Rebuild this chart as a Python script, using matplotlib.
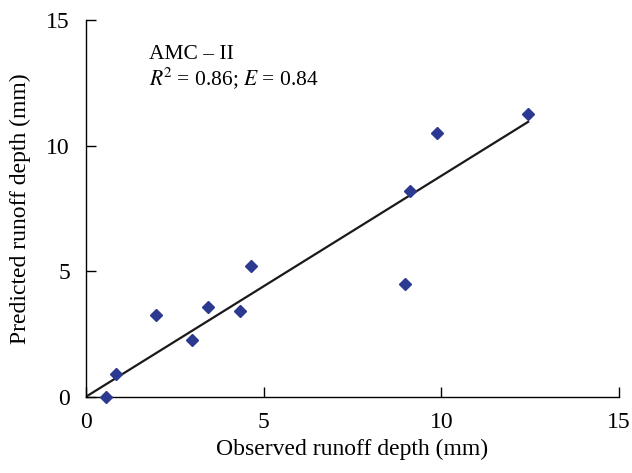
import matplotlib
matplotlib.use("Agg")
import matplotlib.pyplot as plt
import numpy as np

observed = [0.56, 0.84, 1.96, 2.99, 3.44, 4.33, 4.64, 8.98, 9.12, 9.88, 12.44]
predicted = [0.00, 0.89, 3.25, 2.25, 3.58, 3.42, 5.22, 4.49, 8.20, 10.51, 11.25]
ticks = [0, 5, 10, 15]
annot_title = "AMC – II"

plt.rcParams['font.family'] = ['Liberation Serif', 'DejaVu Serif']
plt.rcParams['mathtext.fontset'] = 'stix'

fig = plt.figure(figsize=(6.32, 4.73), dpi=100)
ax = fig.add_axes([0.1361, 0.1613, 0.8434, 0.7964])

x = np.array(observed)
y = np.array(predicted)
slope = np.sum(x * y) / np.sum(x * x)
xl = np.array([0, x.max()])
ax.plot(xl, slope * xl, color='#1a1a1a', lw=1.6, zorder=2)
ax.plot(x, y, 'D', color='#2B3990', markersize=6, zorder=3, clip_on=False)

ax.set_xlim(0, 15)
ax.set_ylim(0, 15)
ax.set_xticks(ticks)
ax.set_yticks(ticks)
ax.tick_params(direction='in', length=7, width=1, labelsize=17)
ax.tick_params(axis='x', pad=11)
ax.tick_params(axis='y', pad=11.5)
for s in ['top', 'right']:
    ax.spines[s].set_visible(False)
for s in ['left', 'bottom']:
    ax.spines[s].set_linewidth(1.0)

ax.set_xlabel("Observed runoff depth (mm)", fontsize=17, labelpad=4)
ax.set_ylabel("Predicted runoff depth (mm)", fontsize=17, labelpad=11)

ax.text(0.118, 0.896, annot_title, transform=ax.transAxes, fontsize=15.5, va='baseline')
ax.text(0.118, 0.827, r"$R^{\!2}$ = 0.86; $E$ = 0.84", transform=ax.transAxes, fontsize=15.5, va='baseline')

fig.savefig("out.png", dpi=100)
